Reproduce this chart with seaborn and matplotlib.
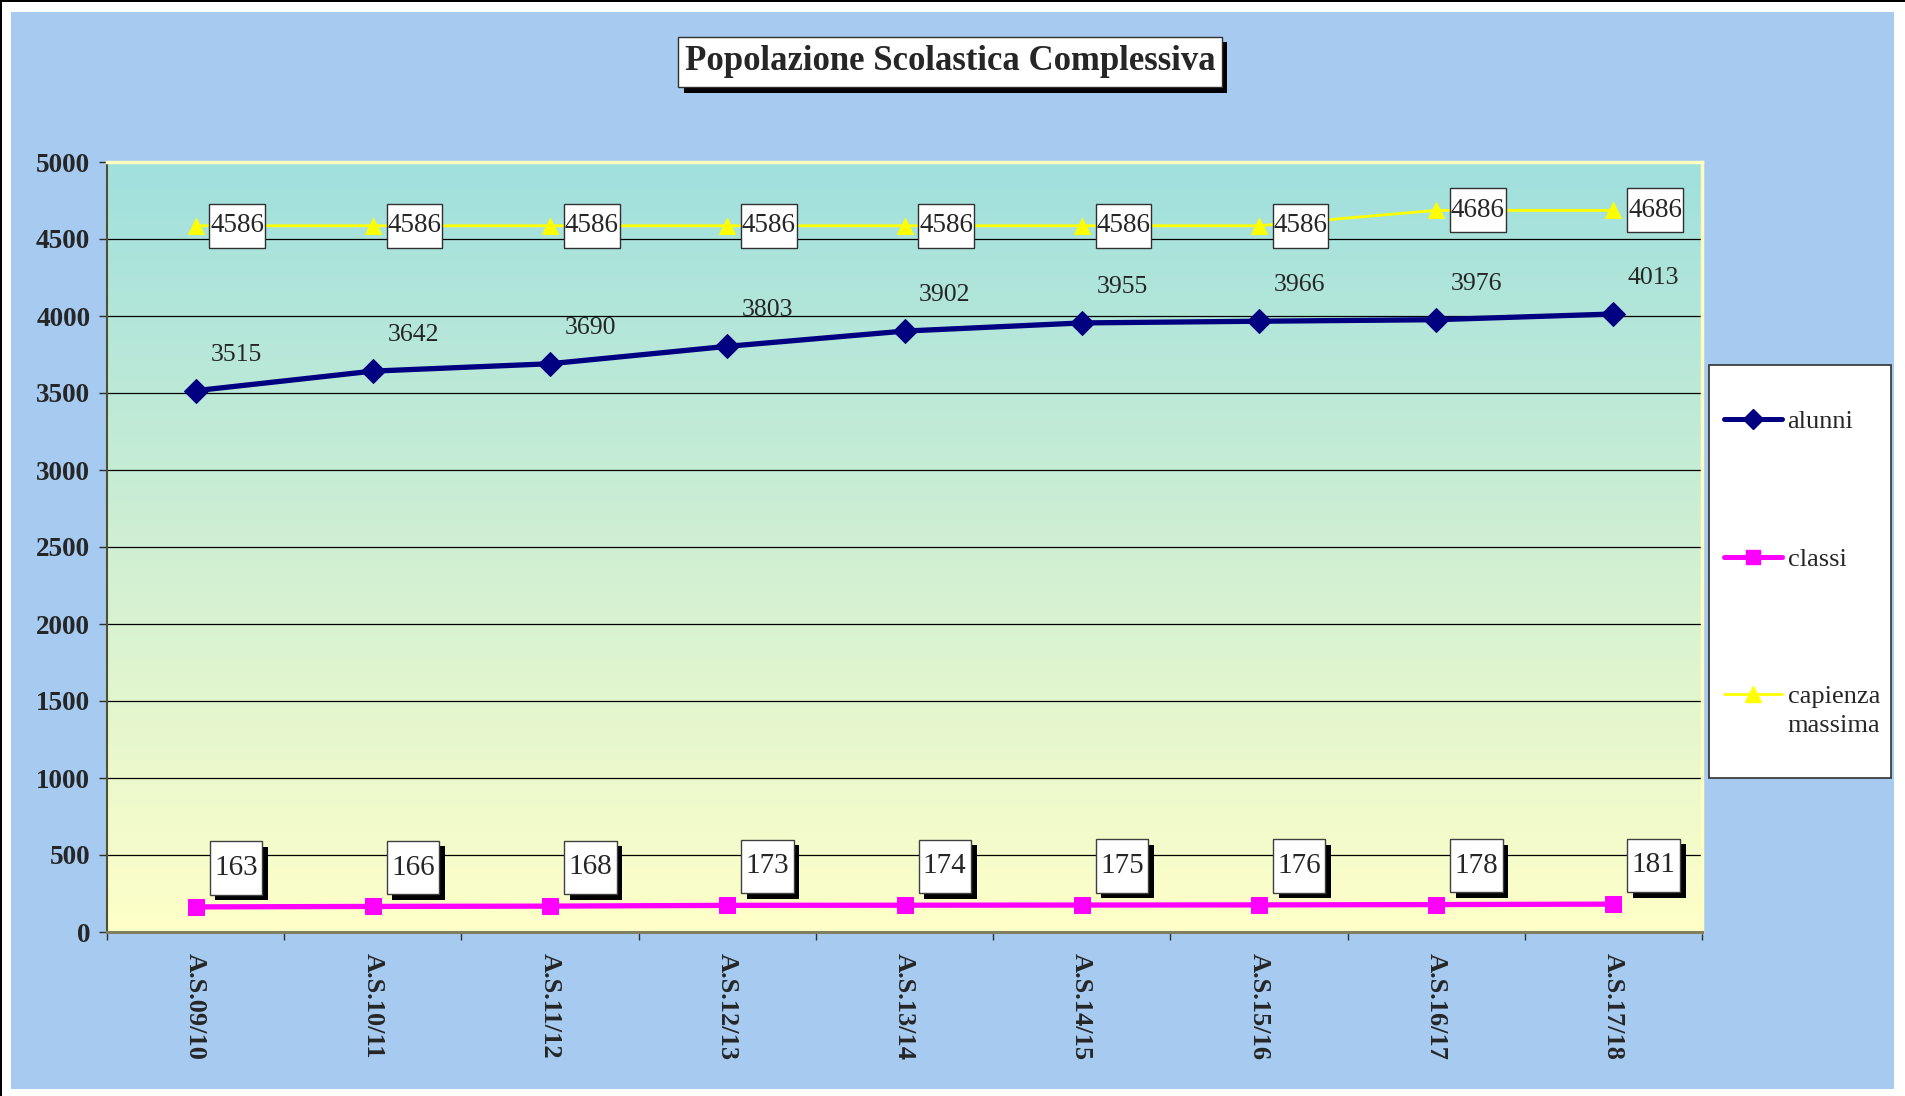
import numpy as np
import pandas as pd
import seaborn as sns
import matplotlib.pyplot as plt
from matplotlib.patches import Rectangle
from matplotlib.lines import Line2D
from matplotlib.path import Path
import matplotlib.patheffects as pe

years = ["A.S.09/10", "A.S.10/11", "A.S.11/12", "A.S.12/13", "A.S.13/14",
         "A.S.14/15", "A.S.15/16", "A.S.16/17", "A.S.17/18"]
alunni = [3515, 3642, 3690, 3803, 3902, 3955, 3966, 3976, 4013]
classi = [163, 166, 168, 173, 174, 175, 176, 178, 181]
capienza = [4586, 4586, 4586, 4586, 4586, 4586, 4586, 4686, 4686]

W, H = 1905, 1096
sns.set_style("white")
plt.rcParams['font.family'] = ['Liberation Serif', 'DejaVu Serif']


def box(padx, pady):
    # square box with separate x / y padding (in units of font size)
    def _box(x0, y0, width, height, mutation_size):
        px, py = padx * mutation_size, pady * mutation_size
        x0, y0 = x0 - px, y0 - py
        x1, y1 = x0 + width + 2 * px, y0 + height + 2 * py
        return Path([(x0, y0), (x1, y0), (x1, y1), (x0, y1), (x0, y0)], closed=True)
    return _box


fig = plt.figure(figsize=(W / 100, H / 100), dpi=100, facecolor='white')

# outer frame: black top/left line, blue panel
fig.add_artist(Rectangle((0, 1 - 2 / H), 1, 2 / H, transform=fig.transFigure, fc='black', ec='none'))
fig.add_artist(Rectangle((0, 0), 2 / W, 1, transform=fig.transFigure, fc='black', ec='none'))
fig.add_artist(Rectangle((11 / W, 1 - 1089 / H), (1894 - 11) / W, (1089 - 12) / H,
                         transform=fig.transFigure, fc='#A6CAF0', ec='none', zorder=0))

ax = fig.add_axes([107 / W, 1 - 932 / H, (1702 - 107) / W, (932 - 162) / H])
ax.set_facecolor('none')

# gradient plot area
top = np.array([160, 224, 222]) / 255
bot = np.array([255, 255, 200]) / 255
t = np.linspace(0, 1, 256)[:, None]
grad = (top * (1 - t) + bot * t)[:, None, :]
ax.imshow(grad, extent=[0, 1, 0, 1], transform=ax.transAxes, aspect='auto', zorder=0)

idx = np.arange(len(years))
df = pd.DataFrame({'x': idx, 'alunni': alunni, 'classi': classi, 'capienza': capienza})

sns.lineplot(data=df, x='x', y='capienza', ax=ax, color='#FFFF00', lw=2, marker='^',
             markersize=12, markeredgecolor='#FFFF00', zorder=3)
sns.lineplot(data=df, x='x', y='alunni', ax=ax, color='#000080', lw=3.8, marker='D',
             markersize=12, markeredgecolor='#000080', zorder=4)
sns.lineplot(data=df, x='x', y='classi', ax=ax, color='#FF00FF', lw=3.8, marker='s',
             markersize=12, markeredgecolor='#FF00FF', zorder=4)

ax.set_xlim(-0.5, len(years) - 0.5)
ax.set_ylim(0, 5000)
ax.set_yticks(range(0, 5001, 500))
for yv in range(500, 5000, 500):
    ax.axhline(yv, color='black', lw=0.9, zorder=1)
ax.set_xticks(idx)
ax.set_xticklabels(years, rotation=-90, fontsize=19, fontweight='bold', va='top')
ax.set_xticks(np.arange(-0.5, len(years)), minor=True)
ax.tick_params(axis='x', which='major', length=0, pad=15)
ax.tick_params(axis='x', which='minor', length=6, width=1, color='#303030', direction='out', bottom=True)
ax.tick_params(axis='y', length=6, width=1, color='#303030', direction='out', left=True, pad=6,
               labelsize=19.5)
for lb in ax.get_yticklabels():
    lb.set_fontweight('bold')
ax.set_xlabel('')
ax.set_ylabel('')
ax.spines['left'].set_color('#505030')
ax.spines['left'].set_linewidth(1.5)
ax.spines['bottom'].set_color('#808060')
ax.spines['bottom'].set_linewidth(2.2)
ax.spines['top'].set_color('#FFFFC0')
ax.spines['right'].set_color('#FFFFC0')
ax.spines['top'].set_linewidth(2.5)
ax.spines['right'].set_linewidth(2.5)

# data labels
for x, v in zip(idx, alunni):
    ax.annotate(str(v), (x, v), xytext=(29, 26), textcoords='offset points',
                ha='center', va='center', fontsize=18.5, zorder=6)
for x, v in zip(idx, capienza):
    ax.annotate(str(v), (x, v), xytext=(30, 0), textcoords='offset points',
                ha='center', va='center', fontsize=19.5, zorder=6,
                bbox=dict(boxstyle=box(0.03, 0.35), fc='white', ec='#303030', lw=1))
for x, v in zip(idx, classi):
    a = ax.annotate(str(v), (x, v), xytext=(29, 28), textcoords='offset points',
                    ha='center', va='center', fontsize=21, zorder=6,
                    bbox=dict(boxstyle=box(0.15, 0.47), fc='white', ec='#404040', lw=1))
    a.get_bbox_patch().set_path_effects([pe.withSimplePatchShadow(offset=(4, -4), shadow_rgbFace='black', alpha=1)])

# title
tt = fig.text(950 / W, 1 - 62 / H, "Popolazione Scolastica Complessiva", ha='center', va='center',
              fontsize=25, fontweight='bold',
              bbox=dict(boxstyle=box(0.18, 0.25), fc='white', ec='#303030', lw=1))
tt.get_bbox_patch().set_path_effects([pe.withSimplePatchShadow(offset=(4, -4), shadow_rgbFace='black', alpha=1)])

# legend
fig.add_artist(Rectangle((1709 / W, 1 - 778 / H), (1891 - 1709) / W, (778 - 365) / H,
                         transform=fig.transFigure, fc='white', ec='#303030', lw=1.2, zorder=5))
handles = [
    Line2D([], [], color='#000080', lw=3.6, marker='D', markersize=10),
    Line2D([], [], color='#FF00FF', lw=3.6, marker='s', markersize=10),
    Line2D([], [], color='#FFFF00', lw=2, marker='^', markersize=11),
]
leg = fig.legend(handles, ['alunni', 'classi', 'capienza'], loc='center left',
                 bbox_to_anchor=(1711 / W, 1 - 559 / H), frameon=False, fontsize=19,
                 labelspacing=4.33, handlelength=2.2, handletextpad=0.2, borderpad=0)
leg.set_zorder(6)
fig.text(1787 / W, 1 - 726 / H, "massima", ha='left', va='center', fontsize=19, zorder=7)

fig.savefig('out.png', dpi=100, facecolor='white')
